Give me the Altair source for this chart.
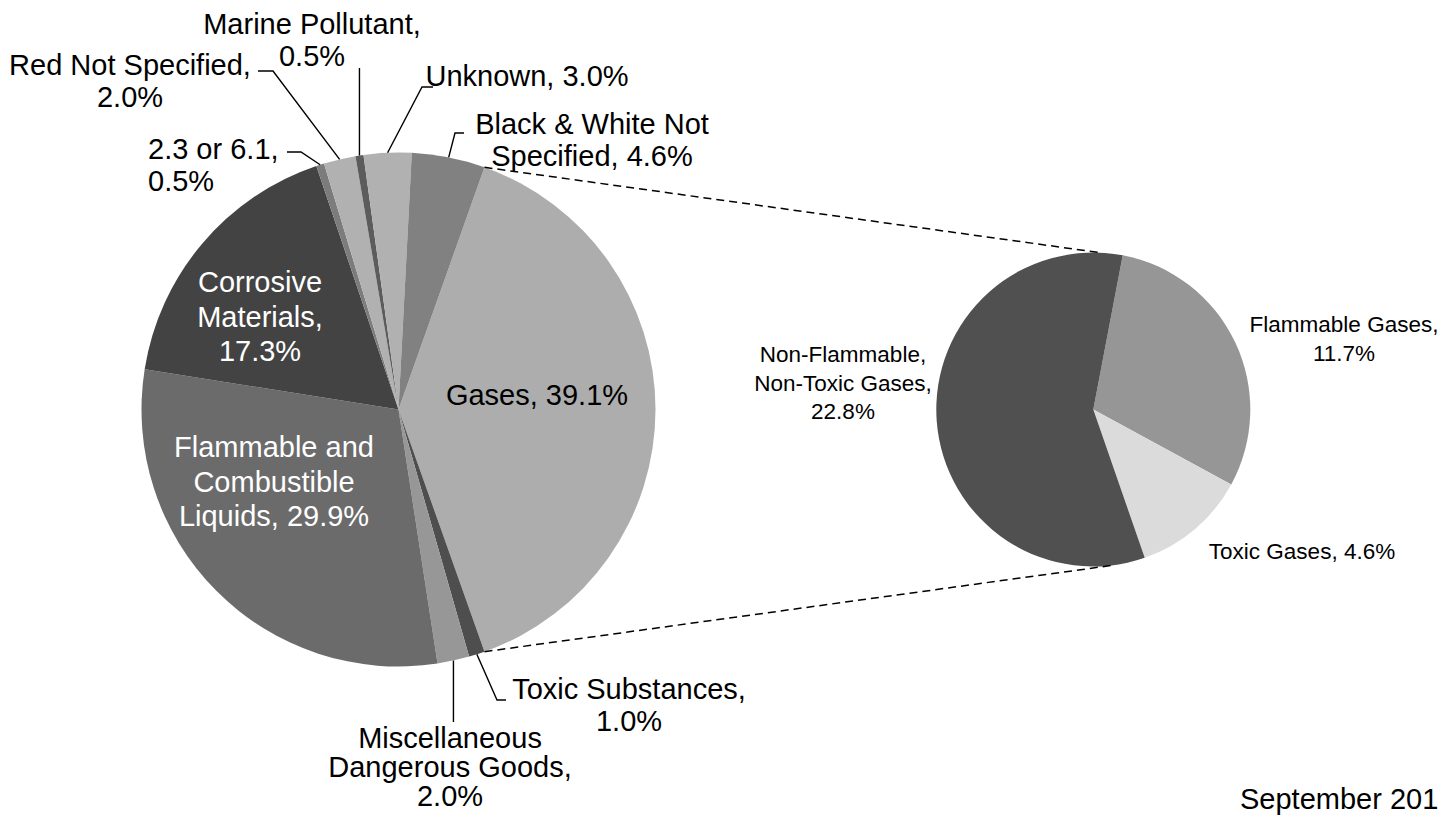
import math
import altair as alt
import pandas as pd

# ---------------- data ----------------
main_names = ["Gases", "Toxic Substances", "Miscellaneous\nDangerous Goods",
              "Flammable and\nCombustible\nLiquids", "Corrosive\nMaterials", "2.3 or 6.1",
              "Red Not Specified", "Marine Pollutant", "Unknown",
              "Black & White Not\nSpecified"]
main_values = [39.1, 1.0, 2.0, 29.9, 17.3, 0.5, 2.0, 0.5, 3.0, 4.6]
main_colors = ["#ADADAD", "#4E4E4E", "#979797", "#6B6B6B", "#434343",
               "#7C7C7C", "#B1B1B1", "#5C5C5C", "#B1B1B1", "#818181"]
# whether the percentage goes on its own line
main_pct_newline = [False, True, True, False, True, True, True, True, False, False]

sub_names = ["Flammable Gases", "Toxic Gases", "Non-Flammable,\nNon-Toxic Gases"]
sub_values = [11.7, 4.6, 22.8]
sub_colors = ["#969696", "#DBDBDB", "#505050"]
sub_pct_newline = [True, False, True]

footer_text = "September 201"

# ---------------- layout ----------------
M = 8
W, H = 1434, 810
CX, CY, R = 398.5, 409.5, 257          # main pie (page px)
CX2, CY2, R2 = 1093.3, 409.5, 157      # secondary pie
SUB_START_DEG = 10.8
CONN_DEG = [2.5, 172.0]                # where connectors meet the secondary pie
FONT = "Liberation Sans"

xs = alt.Scale(domain=[M, M + W], nice=False, zero=False)
ys = alt.Scale(domain=[M, M + H], reverse=True, nice=False, zero=False)

tot = sum(main_values)
off = math.pi / 2 - math.pi * main_values[0] / tot
sub_tot = sum(sub_values)
off2 = math.radians(SUB_START_DEG)


def label(name, v, nl):
    return name + ("," + "\n" if nl else ", ") + f"{v:.1f}%"


# ---------------- pies ----------------
main_df = pd.DataFrame({"name": main_names, "value": main_values,
                        "color": main_colors, "idx": list(range(len(main_names)))})
sub_df = pd.DataFrame({"name": sub_names, "value": sub_values,
                       "color": sub_colors, "idx": list(range(len(sub_names)))})

main_pie = alt.Chart(main_df).mark_arc(outerRadius=R).encode(
    theta=alt.Theta("value:Q", stack=True,
                    scale=alt.Scale(domain=[0, tot], range=[off, off + 2 * math.pi])),
    color=alt.Color("color:N", scale=None),
    order=alt.Order("idx:Q"),
    x=alt.value(CX - M), y=alt.value(CY - M),
)
sub_pie = alt.Chart(sub_df).mark_arc(outerRadius=R2).encode(
    theta=alt.Theta("value:Q", stack=True,
                    scale=alt.Scale(domain=[0, sub_tot], range=[off2, off2 + 2 * math.pi])),
    color=alt.Color("color:N", scale=None),
    order=alt.Order("idx:Q"),
    x=alt.value(CX2 - M), y=alt.value(CY2 - M),
)

# slice mid angles (clockwise from 12 o'clock)
cum = 0.0
mids = []
for v in main_values:
    mids.append(off + 2 * math.pi * (cum + v / 2) / tot)
    cum += v


def on_main(a, r=R):
    return CX + r * math.sin(a), CY - r * math.cos(a)


# ---------------- leader lines ----------------
leader_pts = {
    1: [(497, 700), (506, 700)],
    2: [(None, 722)],
    5: [(301, 152), (287, 152)],
    6: [(273, 71), (258, 71)],
    7: [(None, 68)],
    8: [(422, 87), (433, 87)],
    9: [(455, 133), (464, 133)],
}
rows = []
for i, pts in leader_pts.items():
    sx, sy = on_main(mids[i])
    rows.append({"lid": i, "k": 0, "x": sx, "y": sy})
    for k, (px, py) in enumerate(pts, start=1):
        rows.append({"lid": i, "k": k, "x": sx if px is None else px, "y": py})
leader_df = pd.DataFrame(rows)
leaders = alt.Chart(leader_df).mark_line(color="black", strokeWidth=1.4).encode(
    x=alt.X("x:Q", scale=xs, axis=None), y=alt.Y("y:Q", scale=ys, axis=None),
    detail="lid:N", order="k:Q")

# ---------------- connector (dashed) lines ----------------
a_start = off
a_end = off + 2 * math.pi * main_values[0] / tot
crow = []
for j, (a, d) in enumerate(zip([a_start, a_end], CONN_DEG)):
    x0, y0 = on_main(a)
    b = math.radians(d)
    x1, y1 = CX2 + R2 * math.sin(b), CY2 - R2 * math.cos(b)
    crow += [{"lid": j, "k": 0, "x": x0, "y": y0}, {"lid": j, "k": 1, "x": x1, "y": y1}]
conn = alt.Chart(pd.DataFrame(crow)).mark_line(
    color="black", strokeWidth=1.5, strokeDash=[8, 5]).encode(
    x=alt.X("x:Q", scale=xs, axis=None), y=alt.Y("y:Q", scale=ys, axis=None),
    detail="lid:N", order="k:Q")

# ---------------- labels ----------------
# x, y of the first line's centre (page px), alignment, colour, line height
main_lab_pos = {
    0: (537, 396, "center", "black", 34.5),
    1: (629, 690, "center", "black", 31.5),
    2: (450, 739, "center", "black", 29),
    3: (274, 448, "center", "white", 34.5),
    4: (260, 283, "center", "white", 34.5),
    5: (148, 150, "left", "black", 31.5),
    6: (130, 66, "center", "black", 31.5),
    7: (312, 25, "center", "black", 31.5),
    8: (527, 77, "center", "black", 31.5),
    9: (592, 125, "center", "black", 31.5),
}
lab_rows = []
for i, (x, y, al, c, lh) in main_lab_pos.items():
    lab_rows.append({"x": x, "y": y, "anchor": al, "tc": c, "lh": lh,
                     "text": label(main_names[i], main_values[i], main_pct_newline[i])})
lab_df = pd.DataFrame(lab_rows)


def text_layer(df, align, size, lh):
    return alt.Chart(df).mark_text(
        align=align, baseline="middle", font=FONT, fontSize=size,
        lineBreak="\n", lineHeight=lh).encode(
        x=alt.X("x:Q", scale=xs, axis=None), y=alt.Y("y:Q", scale=ys, axis=None),
        text="text:N", color=alt.Color("tc:N", scale=None))


main_text_layers = []
for (al, lh), g in lab_df.groupby(["anchor", "lh"]):
    main_text_layers.append(text_layer(g, al, 29, lh))

sub_lab_pos = {0: (1344, 325), 1: (1302, 552), 2: (843, 355)}
sub_rows = [{"x": x, "y": y, "tc": "black",
             "text": label(sub_names[i], sub_values[i], sub_pct_newline[i])}
            for i, (x, y) in sub_lab_pos.items()]
t_sub = text_layer(pd.DataFrame(sub_rows), "center", 22.5, 28.5)

foot = alt.Chart(pd.DataFrame({"x": [1240], "y": [815], "text": [footer_text]})).mark_text(
    align="left", baseline="bottom", font=FONT, fontSize=29, color="black").encode(
    x=alt.X("x:Q", scale=xs, axis=None), y=alt.Y("y:Q", scale=ys, axis=None), text="text:N")

chart = alt.layer(main_pie, sub_pie, conn, leaders, *main_text_layers, t_sub, foot).resolve_scale(
    theta="independent").properties(
    width=W, height=H, autosize=alt.AutoSizeParams(type="none"), padding=0,
    background="white").configure_view(stroke=None)

chart.save("out.html", embed_options={"renderer": "svg", "actions": False})
